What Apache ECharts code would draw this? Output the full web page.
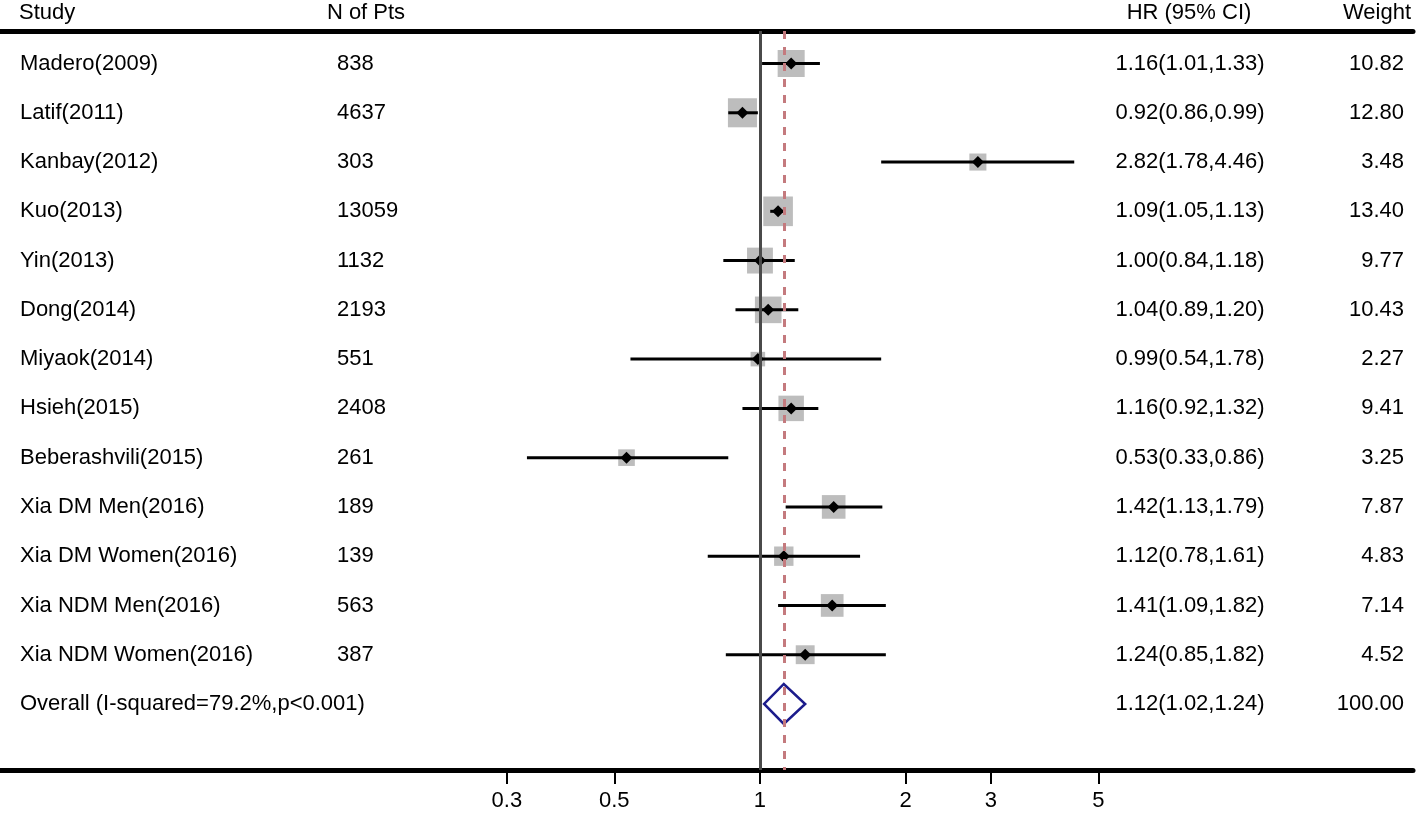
<!DOCTYPE html>
<html><head><meta charset="utf-8">
<script src="https://cdn.jsdelivr.net/npm/echarts@6/dist/echarts.min.js"></script>
<style>html,body{margin:0;padding:0;background:#fff}#c{width:1418px;height:814px}</style>
</head><body><div id="c"></div>
<script>
const studies = ['Madero(2009)','Latif(2011)','Kanbay(2012)','Kuo(2013)','Yin(2013)','Dong(2014)','Miyaok(2014)','Hsieh(2015)','Beberashvili(2015)','Xia DM Men(2016)','Xia DM Women(2016)','Xia NDM Men(2016)','Xia NDM Women(2016)'];
const nPts = [838, 4637, 303, 13059, 1132, 2193, 551, 2408, 261, 189, 139, 563, 387];
const hr = [1.16, 0.92, 2.82, 1.09, 1.00, 1.04, 0.99, 1.16, 0.53, 1.42, 1.12, 1.41, 1.24];
const lo = [1.01, 0.86, 1.78, 1.05, 0.84, 0.89, 0.54, 0.92, 0.33, 1.13, 0.78, 1.09, 0.85];
const hi = [1.33, 0.99, 4.46, 1.13, 1.18, 1.20, 1.78, 1.32, 0.86, 1.79, 1.61, 1.82, 1.82];
const weight = [10.82, 12.80, 3.48, 13.40, 9.77, 10.43, 2.27, 9.41, 3.25, 7.87, 4.83, 7.14, 4.52];
const overallLabel = 'Overall (I-squared=79.2%,p<0.001)';
const overallHR = 1.12, overallLo = 1.02, overallHi = 1.24, overallWeight = 100.00;
const tickValues = [0.3, 0.5, 1, 2, 3, 5];
const tickLabels = ['0.3', '0.5', '1', '2', '3', '5'];
const headers = ['Study', 'N of Pts', 'HR (95% CI)', 'Weight'];

const FONT = "'Liberation Sans', Arial, sans-serif";
const FS = 22;
const chart = echarts.init(document.getElementById('c'));
const rows = studies.map((s, i) => [i, hr[i], lo[i], hi[i], weight[i]]);
const overallRows = [[studies.length, overallHR, overallLo, overallHi, overallWeight]];
const fmtCI = (e, l, h) => e.toFixed(2) + '(' + l.toFixed(2) + ',' + h.toFixed(2) + ')';

function txt(x, y, text, align) {
  return {type: 'text', x: x, y: y, style: {text: text, fontSize: FS, fontFamily: FONT, fill: '#000', align: align, verticalAlign: 'middle'}};
}

const option = {
  animation: false,
  grid: {left: 0, right: 5, top: 31, bottom: 44},
  xAxis: [{
    type: 'log', min: 0.0269, max: 22.35, position: 'bottom',
    axisLine: {onZero: false, lineStyle: {color: '#000', width: 5}},
    axisTick: {customValues: tickValues, length: 14, lineStyle: {color: '#000', width: 2}},
    axisLabel: {customValues: tickValues, fontSize: FS, fontFamily: FONT, color: '#000', margin: 20,
      formatter: v => { const k = tickValues.findIndex(t => Math.abs(t - v) < 1e-6); return k >= 0 ? tickLabels[k] : ''; }},
    splitLine: {show: false}
  }, {
    type: 'log', min: 0.0269, max: 22.35, position: 'top',
    axisLine: {onZero: false, lineStyle: {color: '#000', width: 5}},
    axisTick: {show: false}, axisLabel: {show: false}, splitLine: {show: false}
  }],
  yAxis: {type: 'value', inverse: true, min: -0.66, max: 14.34, show: false},
  graphic: [
    txt(19, 13, headers[0], 'left'),
    txt(366, 13, headers[1], 'center'),
    txt(1189, 13, headers[2], 'center'),
    txt(1411, 13, headers[3], 'right')
  ],
  series: [
    {
      type: 'custom', z: 1, data: rows, encode: {x: 1, y: 0},
      renderItem: function (params, api) {
        const p = api.coord([api.value(1), api.value(0)]);
        const s = 7 * Math.sqrt(api.value(4)) + 4;
        return {type: 'rect', shape: {x: p[0] - s / 2, y: p[1] - s / 2, width: s, height: s}, style: {fill: '#bdbdbd'}};
      }
    },
    {
      type: 'scatter', z: 2, data: [], silent: true,
      markLine: {
        silent: true, symbol: ['none', 'none'], label: {show: false}, animation: false,
        data: [
          {xAxis: 1, lineStyle: {color: '#4a4a4a', width: 3, type: 'solid'}},
          {xAxis: overallHR, lineStyle: {color: '#c47a7e', width: 3, type: [8, 8]}}
        ]
      }
    },
    {
      type: 'custom', z: 3, data: rows, encode: {x: 1, y: 0},
      renderItem: function (params, api) {
        const r = api.value(0);
        const pE = api.coord([api.value(1), r]);
        const pL = api.coord([api.value(2), r]);
        const pH = api.coord([api.value(3), r]);
        const d = 6;
        return {type: 'group', children: [
          {type: 'line', shape: {x1: pL[0], y1: pL[1], x2: pH[0], y2: pH[1]}, style: {stroke: '#000', lineWidth: 3}},
          {type: 'polygon', shape: {points: [[pE[0] - d, pE[1]], [pE[0], pE[1] - d], [pE[0] + d, pE[1]], [pE[0], pE[1] + d]]}, style: {fill: '#000'}}
        ]};
      }
    },
    {
      type: 'custom', z: 3, data: overallRows, encode: {x: 1, y: 0},
      renderItem: function (params, api) {
        const r = api.value(0);
        const pE = api.coord([api.value(1), r]);
        const pL = api.coord([api.value(2), r]);
        const pH = api.coord([api.value(3), r]);
        const h = 20;
        return {type: 'polygon', shape: {points: [[pL[0], pE[1]], [pE[0], pE[1] - h], [pH[0], pE[1]], [pE[0], pE[1] + h]]},
          style: {fill: 'none', stroke: '#1c1c8c', lineWidth: 2.5}};
      }
    },
    {
      type: 'custom', z: 4, data: rows, encode: {x: 1, y: 0},
      renderItem: function (params, api) {
        const i = params.dataIndex;
        const y = api.coord([1, api.value(0)])[1];
        return {type: 'group', children: [
          txt(20, y, studies[i], 'left'),
          txt(337, y, String(nPts[i]), 'left'),
          txt(1190, y, fmtCI(hr[i], lo[i], hi[i]), 'center'),
          txt(1404, y, weight[i].toFixed(2), 'right')
        ]};
      }
    },
    {
      type: 'custom', z: 4, data: overallRows, encode: {x: 1, y: 0},
      renderItem: function (params, api) {
        const y = api.coord([1, api.value(0)])[1];
        return {type: 'group', children: [
          txt(20, y, overallLabel, 'left'),
          txt(1190, y, fmtCI(overallHR, overallLo, overallHi), 'center'),
          txt(1404, y, overallWeight.toFixed(2), 'right')
        ]};
      }
    }
  ]
};
chart.setOption(option);
</script>
</body></html>
